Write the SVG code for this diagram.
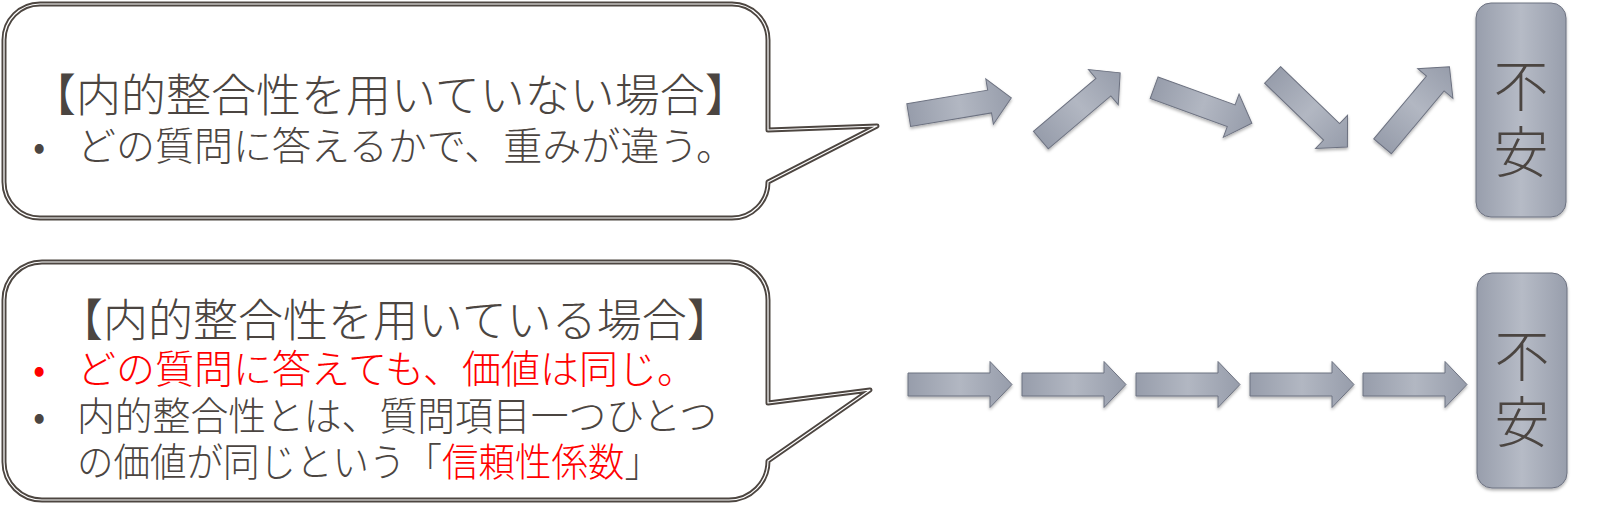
<svg xmlns="http://www.w3.org/2000/svg" xmlns:xlink="http://www.w3.org/1999/xlink" width="1600" height="506" viewBox="0 0 1600 506">
<style>
.co-out{fill:#ffffff;stroke:#4d4641;stroke-width:5;stroke-linejoin:round}
.co-in{fill:none;stroke:#ffffff;stroke-width:1.2;stroke-linejoin:round}
.t{font-family:"Noto Sans CJK JP","Noto Sans",sans-serif;fill:#4b4541;font-weight:300}
.title{font-size:45px}
.body{font-size:39px}
.red{fill:#ff0000}
.box{fill:url(#gBox);stroke:#6d7281;stroke-width:1}
.kanji{font-family:"Noto Sans CJK JP",sans-serif;font-size:55px;font-weight:300;fill:#4b4541;text-anchor:middle;dominant-baseline:central}
.arr{fill:url(#gArr);stroke:#6d7281;stroke-width:1;stroke-linejoin:miter}
</style>
<defs>
<linearGradient id="gArr" x1="0" y1="0" x2="1" y2="0">
<stop offset="0" stop-color="#979dab"/>
<stop offset="0.5" stop-color="#b2b7c2"/>
<stop offset="1" stop-color="#979dab"/>
</linearGradient>
<linearGradient id="gBox" x1="0" y1="0" x2="1" y2="0">
<stop offset="0" stop-color="#989eac"/>
<stop offset="0.5" stop-color="#b6bbc6"/>
<stop offset="1" stop-color="#989eac"/>
</linearGradient>
<filter id="sh" x="-20%" y="-20%" width="140%" height="150%">
<feDropShadow dx="0" dy="2" stdDeviation="1.5" flood-color="#000" flood-opacity="0.3"/>
</filter>
<path id="arrow" class="arr" d="M-52,-11.5 H30 V-23 L52,0 L30,23 V11.5 H-52 Z"/>
</defs>

<g id="callout-top">
<path class="co-out" d="M40,4 H732 A36,36 0 0 1 768,40 V130 L877,126 L768,182 A36,36 0 0 1 732,218 H40 A36,36 0 0 1 4,182 V40 A36,36 0 0 1 40,4 Z"/>
<path class="co-in" d="M40,4 H732 A36,36 0 0 1 768,40 V130 L877,126 L768,182 A36,36 0 0 1 732,218 H40 A36,36 0 0 1 4,182 V40 A36,36 0 0 1 40,4 Z"/>
<text class="t title" x="31" y="112">【内的整合性を用いていない場合】</text>
<text class="t body" x="33" y="160">•</text>
<text class="t body" x="77" y="160">どの質問に答えるかで、重みが違う。</text>
</g>

<g id="callout-bottom">
<path class="co-out" d="M42,262 H730 A38,38 0 0 1 768,300 V403 L870,390 L768,461 A39,39 0 0 1 729,500 H42 A38,38 0 0 1 4,462 V300 A38,38 0 0 1 42,262 Z"/>
<path class="co-in" d="M42,262 H730 A38,38 0 0 1 768,300 V403 L870,390 L768,461 A39,39 0 0 1 729,500 H42 A38,38 0 0 1 4,462 V300 A38,38 0 0 1 42,262 Z"/>
<text class="t title" x="58" y="337">【内的整合性を用いている場合】</text>
<text class="t body red" x="33" y="383">•</text>
<text class="t body red" x="77" y="383">どの質問に答えても、価値は同じ。</text>
<text class="t body" x="33" y="430">•</text>
<text class="t body" x="77" y="430" textLength="640" lengthAdjust="spacingAndGlyphs">内的整合性とは、質問項目一つひとつ</text>
<text class="t body" x="77" y="476" textLength="584" lengthAdjust="spacingAndGlyphs">の価値が同じという「<tspan class="red">信頼性係数</tspan>」</text>
</g>

<g id="connectors" filter="url(#sh)">
<use xlink:href="#arrow" transform="translate(960,106.5) rotate(-9.5)"/>
<use xlink:href="#arrow" transform="translate(1080.5,106.5) rotate(-40.3)"/>
<use xlink:href="#arrow" transform="translate(1203,105.5) rotate(20)"/>
<use xlink:href="#arrow" transform="translate(1310,111) rotate(44)"/>
<use xlink:href="#arrow" transform="translate(1416,106.5) rotate(-50)"/>
<use xlink:href="#arrow" transform="translate(960,384.5)"/>
<use xlink:href="#arrow" transform="translate(1074,384.5)"/>
<use xlink:href="#arrow" transform="translate(1188,384.5)"/>
<use xlink:href="#arrow" transform="translate(1302,384.5)"/>
<use xlink:href="#arrow" transform="translate(1415,384.5)"/>
</g>

<g id="box-top">
<rect class="box" x="1476" y="3" width="90" height="214" rx="15" filter="url(#sh)"/>
<text class="kanji" x="1521" y="81.5">不</text>
<text class="kanji" x="1521" y="147.5">安</text>
</g>

<g id="box-bottom">
<rect class="box" x="1477" y="273" width="90" height="215" rx="15" filter="url(#sh)"/>
<text class="kanji" x="1522" y="351.5">不</text>
<text class="kanji" x="1522" y="417.5">安</text>
</g>
</svg>
